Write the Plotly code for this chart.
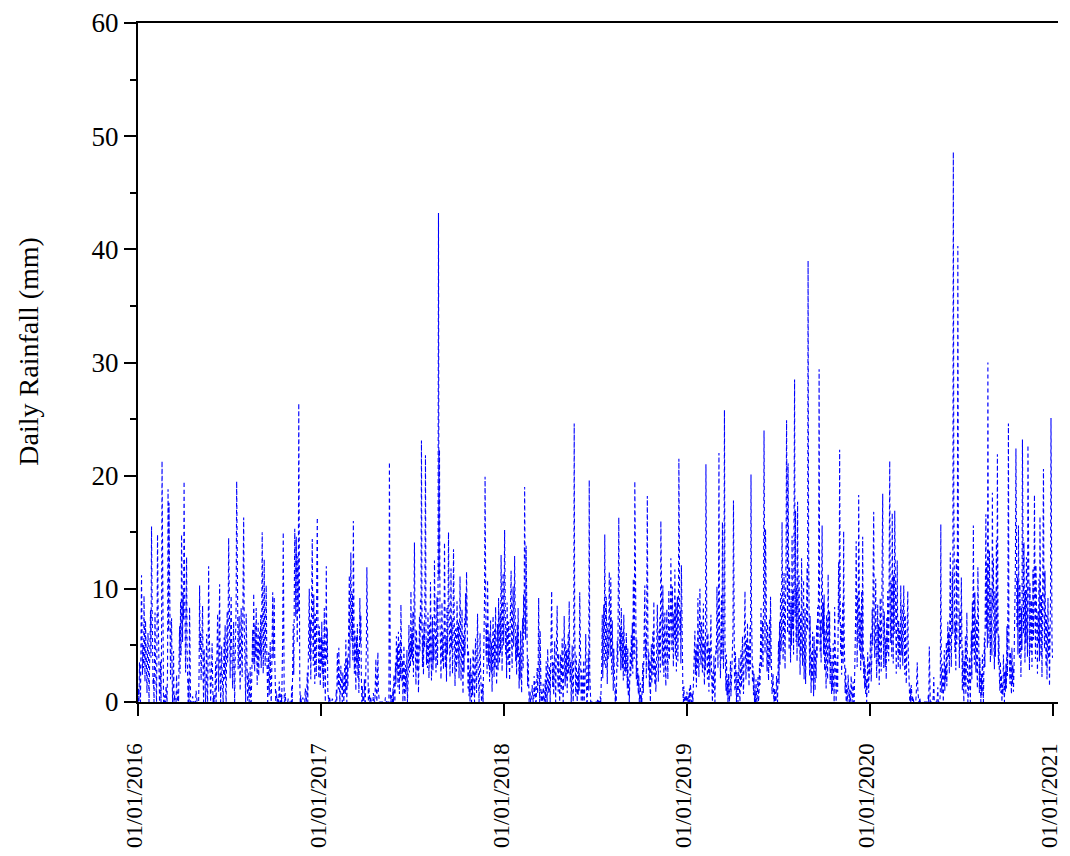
import datetime
import plotly.graph_objects as go

# Daily rainfall (mm), one inner list per month (Jan..Dec), read/estimated from the chart
rain_2016 = [
    [0, 1.2, 0, 3.5, 2.1, 0, 4.8, 11.2, 6.3, 2.4, 5.1, 3.0, 9.4, 4.2, 1.8, 7.2, 5.5, 2.6, 0.8, 4.4, 6.1, 3.3, 0, 2.7, 5.8, 8.1, 3.9, 15.5, 9.2, 4.6, 1.5],
    [2.2, 0, 5.6, 7.9, 3.1, 0.5, 0, 6.4, 14.8, 8.7, 4.0, 2.3, 0, 1.1, 3.6, 0, 5.2, 21.3, 9.8, 2.0, 0, 0, 0.6, 0, 0, 1.4, 0, 0, 3.2],
    [18.8, 6.2, 17.6, 11.5, 4.3, 2.0, 5.9, 7.4, 3.1, 0, 1.6, 4.5, 0, 0.7, 0, 0, 0, 2.4, 0, 0, 0.9, 0, 3.8, 6.7, 2.5, 8.9, 4.1, 14.8, 10.6, 5.3, 9.7],
    [7.3, 19.5, 11.2, 4.8, 2.6, 6.9, 12.8, 5.0, 3.4, 0, 2.1, 0, 8.4, 1.7, 0, 0, 0, 0, 0.5, 0, 0, 0, 0, 0, 0, 1.0, 0, 0, 0, 0],
    [0, 2.8, 10.3, 4.6, 6.1, 1.9, 3.5, 5.4, 8.5, 2.2, 0, 4.7, 3.0, 0.8, 0, 2.5, 6.0, 1.3, 0, 3.9, 12.0, 7.1, 2.4, 4.3, 0, 1.5, 3.2, 5.2, 2.0, 0, 0.6],
    [0, 0, 1.4, 3.6, 0, 2.2, 5.9, 7.8, 4.0, 0.9, 6.3, 10.4, 3.1, 0, 1.8, 4.9, 2.6, 0, 0, 3.3, 5.7, 2.0, 6.8, 1.2, 0, 4.4, 8.0, 3.5, 6.6, 14.5],
    [8.2, 4.5, 2.1, 6.7, 9.4, 5.3, 3.0, 1.2, 4.8, 7.1, 2.4, 0, 3.6, 6.2, 8.8, 19.5, 10.1, 5.7, 2.9, 4.4, 7.6, 3.2, 1.0, 5.5, 8.3, 4.1, 2.2, 6.0, 11.8, 16.3, 7.4],
    [3.5, 1.8, 0, 7.8, 4.2, 0.9, 0, 2.6, 0, 0, 1.3, 3.1, 0, 0, 2.0, 4.6, 6.4, 3.3, 9.6, 5.8, 2.7, 6.9, 4.0, 8.3, 3.6, 1.5, 5.1, 7.0, 2.3, 4.8, 6.2],
    [4.1, 7.7, 3.0, 5.6, 15.0, 8.4, 2.5, 6.3, 12.6, 4.9, 3.2, 7.5, 10.3, 5.0, 1.7, 0, 2.8, 4.4, 0.6, 3.0, 5.3, 1.1, 0, 2.4, 6.6, 9.7, 3.8, 5.9, 9.3, 4.0],
    [2.2, 0, 1.0, 0, 0, 0.4, 0, 0, 1.8, 0, 0, 0, 0.7, 0, 2.5, 6.1, 15.0, 3.4, 0, 0, 0.8, 0, 0, 0, 0, 0, 0.3, 0, 0, 0, 0],
    [0, 0, 1.5, 0, 3.8, 6.9, 2.4, 9.1, 15.3, 12.2, 7.5, 14.6, 10.8, 5.2, 12.9, 8.0, 26.4, 4.3, 1.9, 0, 0.6, 0, 0, 0, 0.4, 0, 0, 0, 0, 1.2],
    [0, 0, 0.8, 2.6, 0, 4.1, 6.5, 10.0, 3.7, 7.3, 2.0, 5.5, 8.6, 14.4, 6.1, 3.2, 9.5, 4.8, 1.6, 7.8, 5.0, 2.3, 11.4, 16.3, 8.2, 4.5, 2.1, 6.7, 3.0, 1.4, 5.8],
]

rain_2017 = [
    [3.3, 7.1, 2.4, 5.6, 1.2, 4.0, 8.3, 2.9, 0, 5.1, 12.0, 3.6, 6.5, 1.0, 0, 0, 0.5, 0, 0, 0, 0, 0, 0.3, 0, 0, 0, 0, 0, 0, 0, 1.1],
    [0, 4.4, 2.0, 1.1, 4.8, 2.7, 0, 0.9, 3.2, 1.5, 0, 0, 2.6, 0.5, 0, 1.8, 3.4, 0.7, 5.5, 2.2, 0, 3.9, 1.3, 4.6, 6.8, 11.2, 3.0, 7.2],
    [13.2, 8.1, 5.4, 9.6, 3.7, 16.0, 7.9, 2.5, 6.3, 4.2, 1.0, 5.8, 3.4, 6.9, 2.1, 4.7, 0.8, 3.6, 9.2, 5.1, 7.7, 2.3, 0, 1.4, 0, 0.6, 0, 2.0, 0, 0, 3.1],
    [4.5, 11.9, 6.2, 2.0, 0, 1.3, 0, 0, 0.5, 0, 0, 0, 0, 0, 0.8, 0, 0, 0, 1.6, 3.8, 0.9, 0, 2.2, 4.4, 1.0, 0, 0, 0, 0, 0],
    [0, 0, 0, 0, 0, 0, 0, 0, 0.4, 0, 0, 0, 0, 0, 0, 0, 21.2, 1.9, 0, 0, 0.6, 0, 0, 1.2, 0, 2.4, 0.8, 0, 3.5, 1.6, 5.8],
    [2.8, 4.9, 1.3, 6.2, 3.0, 0.7, 5.4, 2.1, 8.6, 4.3, 1.8, 3.7, 0, 2.5, 5.0, 1.1, 0, 3.3, 0.9, 2.0, 4.6, 0, 1.4, 3.8, 6.8, 2.6, 5.2, 3.1, 9.8, 4.0],
    [6.1, 3.5, 8.0, 2.2, 5.7, 14.1, 7.3, 3.9, 1.5, 6.4, 4.0, 2.7, 5.1, 0.8, 3.6, 7.6, 4.4, 9.0, 6.2, 23.1, 8.5, 3.1, 5.9, 2.4, 7.0, 4.8, 10.5, 21.8, 6.6, 3.3, 5.4],
    [3.0, 7.9, 4.6, 2.1, 6.8, 3.4, 10.6, 5.2, 1.9, 4.3, 7.5, 2.8, 6.0, 3.7, 12.5, 8.1, 4.9, 2.6, 5.5, 9.3, 3.2, 6.7, 43.2, 11.0, 22.3, 7.4, 4.1, 2.0, 5.8, 8.8, 3.6],
    [6.2, 2.9, 4.5, 14.1, 7.7, 3.0, 5.6, 1.8, 8.4, 4.2, 6.9, 15.0, 9.1, 3.5, 2.2, 6.0, 11.8, 4.7, 7.3, 2.5, 5.0, 13.5, 8.0, 3.9, 1.4, 6.5, 4.1, 2.7, 8.9, 5.3],
    [3.4, 7.0, 2.1, 5.5, 11.1, 6.3, 1.9, 4.8, 8.2, 3.0, 0.7, 5.9, 2.6, 7.4, 4.1, 9.6, 6.8, 11.5, 8.5, 3.3, 1.2, 4.6, 0.5, 2.8, 0, 3.9, 1.5, 0, 2.4, 0.6, 4.7],
    [4.7, 1.1, 0, 3.2, 5.6, 2.0, 0.8, 4.4, 7.8, 3.5, 1.6, 0, 2.9, 6.1, 3.0, 0.5, 0, 1.2, 1.6, 0, 3.7, 6.6, 9.4, 19.9, 8.2, 4.0, 6.8, 2.5, 10.8, 5.1],
    [3.2, 6.0, 1.8, 4.5, 7.2, 2.6, 5.3, 0.9, 3.8, 7.6, 4.1, 2.2, 6.4, 3.0, 8.4, 5.7, 1.5, 4.0, 6.9, 2.8, 9.2, 5.5, 3.4, 7.9, 4.3, 13.0, 6.1, 2.7, 8.6, 11.4, 5.0],
]

rain_2018 = [
    [7.5, 15.2, 9.0, 4.2, 6.6, 2.1, 8.8, 5.0, 3.3, 7.1, 4.6, 1.9, 6.2, 9.7, 11.6, 5.4, 3.0, 7.8, 10.2, 4.9, 6.5, 12.9, 8.1, 3.6, 5.8, 2.4, 6.9, 4.0, 8.3, 3.1, 1.2],
    [4.4, 2.0, 6.3, 3.1, 0.8, 5.2, 7.4, 2.9, 9.5, 6.0, 19.0, 10.7, 5.5, 13.8, 7.2, 3.0, 1.4, 3.8, 0.6, 0, 0, 0.9, 0, 0, 0, 1.5, 0, 0],
    [0, 2.3, 0.5, 1.8, 0, 0, 1.2, 3.0, 0.7, 2.5, 9.2, 1.4, 0, 6.3, 2.1, 0, 0.9, 0, 0, 1.6, 0, 0, 0.4, 2.0, 0, 3.6, 1.1, 0, 4.7, 2.2, 0.8],
    [1.5, 3.2, 0, 2.6, 5.1, 9.8, 4.0, 1.3, 3.5, 0.6, 2.8, 5.4, 1.9, 0, 3.7, 6.0, 8.5, 2.4, 0.9, 4.3, 1.6, 0, 2.2, 4.2, 0.7, 3.1, 5.6, 1.2, 0, 2.5],
    [7.6, 3.0, 1.4, 5.2, 2.0, 4.6, 0.8, 3.3, 6.1, 2.5, 8.9, 4.0, 1.7, 3.6, 0, 2.2, 5.0, 1.1, 0, 3.8, 24.6, 6.4, 2.0, 0.5, 4.1, 1.3, 0, 2.7, 0.6, 3.4, 1.0],
    [9.7, 3.5, 1.2, 0, 2.8, 0.6, 0, 1.9, 3.7, 0, 0.8, 2.4, 6.0, 1.5, 0, 0, 2.1, 4.3, 1.0, 19.6, 2.6, 0, 0, 0, 0, 0, 0, 0, 0, 0],
    [0, 0, 0, 0, 0, 0, 0.3, 0, 0, 0, 0, 0.5, 0, 1.8, 3.4, 7.7, 2.1, 5.0, 8.6, 3.2, 14.8, 6.4, 2.9, 9.3, 4.5, 1.6, 7.0, 3.8, 5.5, 11.5, 6.2],
    [4.0, 11.0, 5.8, 2.4, 7.2, 3.5, 1.0, 4.7, 2.2, 0.6, 0, 1.3, 0, 2.9, 5.4, 3.1, 7.9, 16.3, 9.2, 4.4, 6.6, 2.8, 8.3, 5.1, 3.0, 6.2, 1.9, 7.7, 4.6, 2.3, 5.0],
    [2.6, 6.1, 3.4, 1.2, 4.8, 0.5, 2.0, 0, 1.6, 4.5, 2.3, 5.9, 3.1, 7.0, 2.5, 10.9, 6.4, 3.8, 19.5, 8.7, 4.2, 2.0, 5.6, 1.4, 3.0, 0.7, 2.4, 0, 1.1, 1.7],
    [0, 0.6, 0, 1.9, 3.5, 0.8, 4.2, 6.7, 10.3, 3.9, 5.6, 2.1, 7.4, 18.2, 6.0, 2.8, 4.5, 1.3, 3.7, 0, 2.0, 5.1, 1.6, 3.3, 6.2, 2.4, 8.9, 4.0, 1.5, 3.6, 0.9],
    [2.7, 5.4, 8.6, 3.9, 1.8, 6.3, 4.1, 7.5, 2.6, 16.0, 9.4, 5.0, 3.2, 10.3, 6.8, 2.2, 4.7, 7.9, 3.5, 1.4, 5.8, 8.2, 4.4, 2.0, 6.6, 9.9, 3.7, 5.2, 7.1, 12.7],
    [8.4, 4.6, 10.2, 6.9, 3.1, 7.8, 5.5, 11.7, 4.0, 8.8, 2.7, 6.5, 9.3, 3.6, 7.0, 21.5, 10.4, 5.9, 8.1, 3.4, 12.1, 6.2, 2.5, 0.9, 0, 1.4, 0, 0, 0.6, 0, 0],
]

rain_2019 = [
    [0.9, 0, 0, 0.5, 0, 1.2, 0, 1.6, 0.4, 0, 0, 0.8, 0, 2.0, 1.1, 3.5, 6.3, 2.4, 4.6, 1.3, 5.2, 3.0, 9.2, 4.1, 2.2, 6.8, 10.0, 5.5, 3.3, 7.1, 4.0],
    [2.6, 6.0, 8.7, 3.4, 1.5, 5.3, 2.8, 21.0, 7.6, 4.2, 2.0, 6.1, 3.5, 0.9, 4.8, 2.3, 5.6, 7.7, 3.0, 1.2, 0, 2.7, 0.8, 4.1, 1.6, 0, 3.2, 5.0],
    [4.3, 10.2, 6.5, 3.0, 8.1, 22.0, 7.2, 4.6, 2.1, 5.9, 9.4, 3.8, 15.9, 6.7, 2.9, 8.5, 25.8, 5.4, 3.1, 1.0, 4.2, 0.6, 2.0, 0, 2.5, 0.8, 0, 1.7, 3.6, 0.5, 2.2],
    [1.4, 3.9, 6.2, 17.8, 5.0, 2.3, 0.9, 4.4, 1.6, 0, 2.7, 0.5, 0, 1.8, 3.9, 1.0, 0, 2.4, 4.6, 1.3, 3.0, 5.8, 2.1, 0.7, 3.5, 6.4, 9.8, 4.2, 2.0, 5.5],
    [3.3, 7.0, 2.6, 5.1, 1.4, 3.8, 6.6, 2.9, 20.1, 8.4, 4.0, 1.7, 3.2, 0.6, 2.5, 0, 1.1, 0, 2.0, 0.4, 0, 1.3, 2.2, 0, 0.8, 3.4, 1.5, 4.9, 8.3, 3.0, 5.6],
    [7.2, 3.1, 9.0, 24.0, 6.5, 4.3, 15.3, 8.8, 5.2, 2.7, 6.9, 3.6, 1.9, 4.8, 7.4, 3.0, 9.3, 5.1, 2.0, 0.7, 1.5, 2.5, 0.6, 0, 1.2, 0, 0.9, 0, 2.3, 1.0],
    [0, 2.8, 5.4, 1.6, 7.1, 3.3, 9.6, 4.5, 6.2, 15.9, 8.0, 3.7, 5.9, 11.4, 6.8, 2.9, 8.7, 13.2, 24.9, 10.5, 6.1, 21.1, 9.4, 4.6, 12.0, 7.3, 3.5, 8.9, 5.0, 14.7, 6.4],
    [9.8, 4.2, 12.6, 28.5, 7.5, 16.9, 5.3, 10.1, 3.6, 17.7, 8.4, 4.9, 11.2, 6.0, 2.4, 7.8, 4.1, 12.7, 9.0, 3.2, 6.5, 10.8, 2.0, 5.7, 8.3, 1.6, 4.4, 7.0, 11.9, 6.3, 39.0],
    [14.2, 5.1, 2.3, 7.6, 3.0, 0.8, 4.4, 1.9, 6.2, 2.6, 0.5, 5.8, 3.2, 1.0, 4.7, 2.1, 6.9, 3.8, 8.4, 5.0, 11.6, 29.4, 9.1, 4.3, 7.2, 3.5, 10.2, 15.6, 6.0, 8.8],
    [4.2, 9.5, 2.8, 6.4, 3.1, 1.2, 7.7, 4.6, 2.0, 11.3, 5.8, 3.4, 8.0, 1.6, 4.9, 2.5, 0.7, 3.6, 1.0, 5.2, 2.2, 0, 8.4, 3.0, 1.4, 0, 2.6, 4.0, 0.9, 6.1, 12.4],
    [7.0, 22.3, 9.6, 4.1, 6.8, 2.4, 5.5, 8.9, 3.3, 15.1, 6.2, 2.0, 0.8, 3.1, 0, 1.5, 0, 0.6, 2.4, 0, 0, 1.1, 0, 0.4, 2.3, 0, 0, 0.9, 1.8, 0],
    [0, 2.5, 4.8, 7.6, 14.2, 6.0, 3.1, 9.4, 5.2, 18.3, 11.0, 4.5, 7.9, 2.8, 6.6, 9.8, 3.7, 14.6, 5.4, 2.1, 4.0, 1.2, 3.3, 0.6, 2.0, 0, 1.5, 4.4, 2.2, 0.8, 3.6],
]

rain_2020 = [
    [2.4, 4.7, 6.1, 1.8, 3.5, 8.2, 5.0, 12.1, 16.8, 7.4, 3.9, 6.5, 10.9, 4.2, 2.1, 5.8, 8.6, 3.3, 6.9, 1.5, 4.4, 9.2, 5.6, 2.7, 7.3, 11.8, 18.4, 6.2, 3.0, 8.0, 4.5],
    [3.1, 5.7, 2.0, 7.4, 4.3, 9.8, 6.1, 3.6, 12.4, 21.3, 8.5, 5.2, 10.6, 4.0, 16.7, 7.9, 3.4, 11.2, 6.0, 16.9, 9.3, 4.7, 2.5, 8.1, 12.5, 5.6, 3.0, 7.2, 4.1],
    [6.3, 2.8, 10.3, 7.5, 4.1, 8.6, 3.2, 5.9, 10.3, 6.8, 2.4, 7.7, 4.9, 1.6, 3.8, 6.1, 9.8, 4.4, 2.2, 0.9, 0, 1.3, 0, 1.5, 0, 0, 0.5, 0, 0, 0, 0],
    [0, 0, 0.8, 1.9, 3.5, 1.2, 0, 0, 0, 0.4, 0, 0, 0, 0, 0, 0, 0, 0, 0, 0, 0, 0, 0, 0, 0, 0, 0.6, 0, 4.9, 1.0],
    [0, 0, 0, 0, 0, 0, 0.7, 2.2, 0, 0, 0, 0, 0, 0, 0.5, 1.3, 0, 0, 0, 0, 0.9, 15.7, 2.6, 0.8, 3.4, 1.5, 0, 2.1, 4.6, 1.0, 3.2],
    [2.0, 5.3, 1.4, 3.8, 7.1, 4.0, 6.2, 2.5, 9.0, 13.2, 5.6, 3.1, 8.4, 11.5, 6.0, 48.6, 17.9, 9.3, 4.4, 7.0, 2.8, 12.6, 5.1, 10.2, 40.3, 14.0, 6.6, 3.0, 8.1, 4.7],
    [5.5, 11.0, 3.2, 1.0, 4.6, 2.1, 0, 3.7, 1.5, 5.8, 0.6, 2.9, 7.9, 1.8, 0, 0.7, 2.4, 4.0, 1.2, 0, 3.5, 6.3, 2.0, 8.8, 4.5, 15.6, 6.9, 3.3, 9.7, 5.0, 2.6],
    [7.4, 3.6, 1.2, 11.9, 5.0, 2.2, 0.8, 3.9, 1.4, 0, 2.5, 0.6, 4.2, 1.0, 0, 2.8, 5.7, 3.1, 8.9, 16.6, 6.4, 12.3, 4.8, 30.0, 9.6, 5.2, 13.4, 7.0, 3.5, 10.1, 6.2],
    [4.1, 18.5, 8.2, 12.7, 5.4, 2.9, 9.8, 4.0, 7.1, 14.3, 6.0, 21.9, 8.6, 3.3, 5.9, 2.1, 1.0, 3.6, 0.8, 2.4, 0, 1.5, 0.6, 4.2, 1.9, 0, 2.7, 0.9, 3.4, 1.2],
    [6.7, 2.3, 8.5, 24.6, 5.1, 3.0, 1.6, 4.4, 2.0, 0.7, 4.8, 1.5, 3.2, 0.9, 2.6, 5.3, 8.0, 12.2, 22.4, 9.1, 6.5, 11.0, 4.2, 15.6, 7.7, 3.9, 10.4, 5.8, 2.2, 8.3, 4.6],
    [23.2, 11.4, 6.0, 14.1, 8.7, 3.5, 9.9, 5.2, 12.8, 7.1, 4.0, 22.7, 13.5, 6.3, 2.8, 10.5, 7.6, 4.4, 9.0, 3.1, 6.2, 11.7, 5.5, 8.4, 18.3, 7.0, 3.8, 12.1, 6.6, 4.9],
    [2.5, 8.0, 5.1, 10.9, 3.6, 16.4, 7.3, 4.0, 9.5, 2.2, 6.8, 12.6, 20.6, 8.1, 4.7, 11.6, 6.0, 3.1, 7.7, 2.0, 5.4, 9.2, 3.8, 6.6, 1.4, 4.9, 8.8, 25.1, 10.3, 5.5, 3.9],
]

years = [2016, 2017, 2018, 2019, 2020]
yearly_rain = [rain_2016, rain_2017, rain_2018, rain_2019, rain_2020]

tick_dates = ["2016-01-01", "2017-01-01", "2018-01-01", "2019-01-01", "2020-01-01", "2021-01-01"]
tick_labels = ["01/01/2016", "01/01/2017", "01/01/2018", "01/01/2019", "01/01/2020", "01/01/2021"]
y_title = "Daily Rainfall (mm)"

dates, values = [], []
for yr, months in zip(years, yearly_rain):
    for m, month_vals in enumerate(months):
        for d, v in enumerate(month_vals):
            dates.append(datetime.date(yr, m + 1, d + 1))
            values.append(v)

FONT = "Liberation Serif, Times New Roman, serif"

fig = go.Figure()
fig.add_trace(go.Scatter(
    x=dates, y=values, mode="lines",
    line=dict(color="#0000FF", width=1.1, dash="4px,3px"),
    showlegend=False, hoverinfo="skip",
))

fig.update_layout(
    width=1054, height=840,
    margin=dict(l=130, r=0, t=10, b=143),
    paper_bgcolor="white", plot_bgcolor="white",
    font=dict(family=FONT, color="black"),
    xaxis=dict(
        type="date",
        range=["2016-01-01", "2021-01-11"],
        tickmode="array", tickvals=tick_dates, ticktext=tick_labels,
        tickangle=-90, tickfont=dict(size=23, family=FONT),
        ticks="outside", ticklen=12, tickwidth=2, tickcolor="black",
        ticklabelstandoff=18, ticklabelshift=-3, ticklabeloverflow="allow",
        showline=True, linecolor="black", linewidth=2, mirror=True,
        showgrid=False, zeroline=False,
    ),
    yaxis=dict(
        range=[0, 60], tickmode="linear", tick0=0, dtick=10,
        tickfont=dict(size=27, family=FONT),
        ticks="outside", ticklen=12, tickwidth=2, tickcolor="black",
        ticklabeloverflow="allow",
        minor=dict(ticks="outside", ticklen=6, tickwidth=2, tickcolor="black", dtick=5, showgrid=False),
        showline=True, linecolor="black", linewidth=2,
        showgrid=False, zeroline=False,
    ),
    annotations=[dict(
        text=y_title, textangle=-90, showarrow=False,
        xref="paper", yref="paper", x=-0.1190, y=0.5167,
        xanchor="center", yanchor="middle",
        font=dict(size=28, family=FONT, color="black"),
    )],
)

fig.write_html("out.html", config={"displayModeBar": False})
